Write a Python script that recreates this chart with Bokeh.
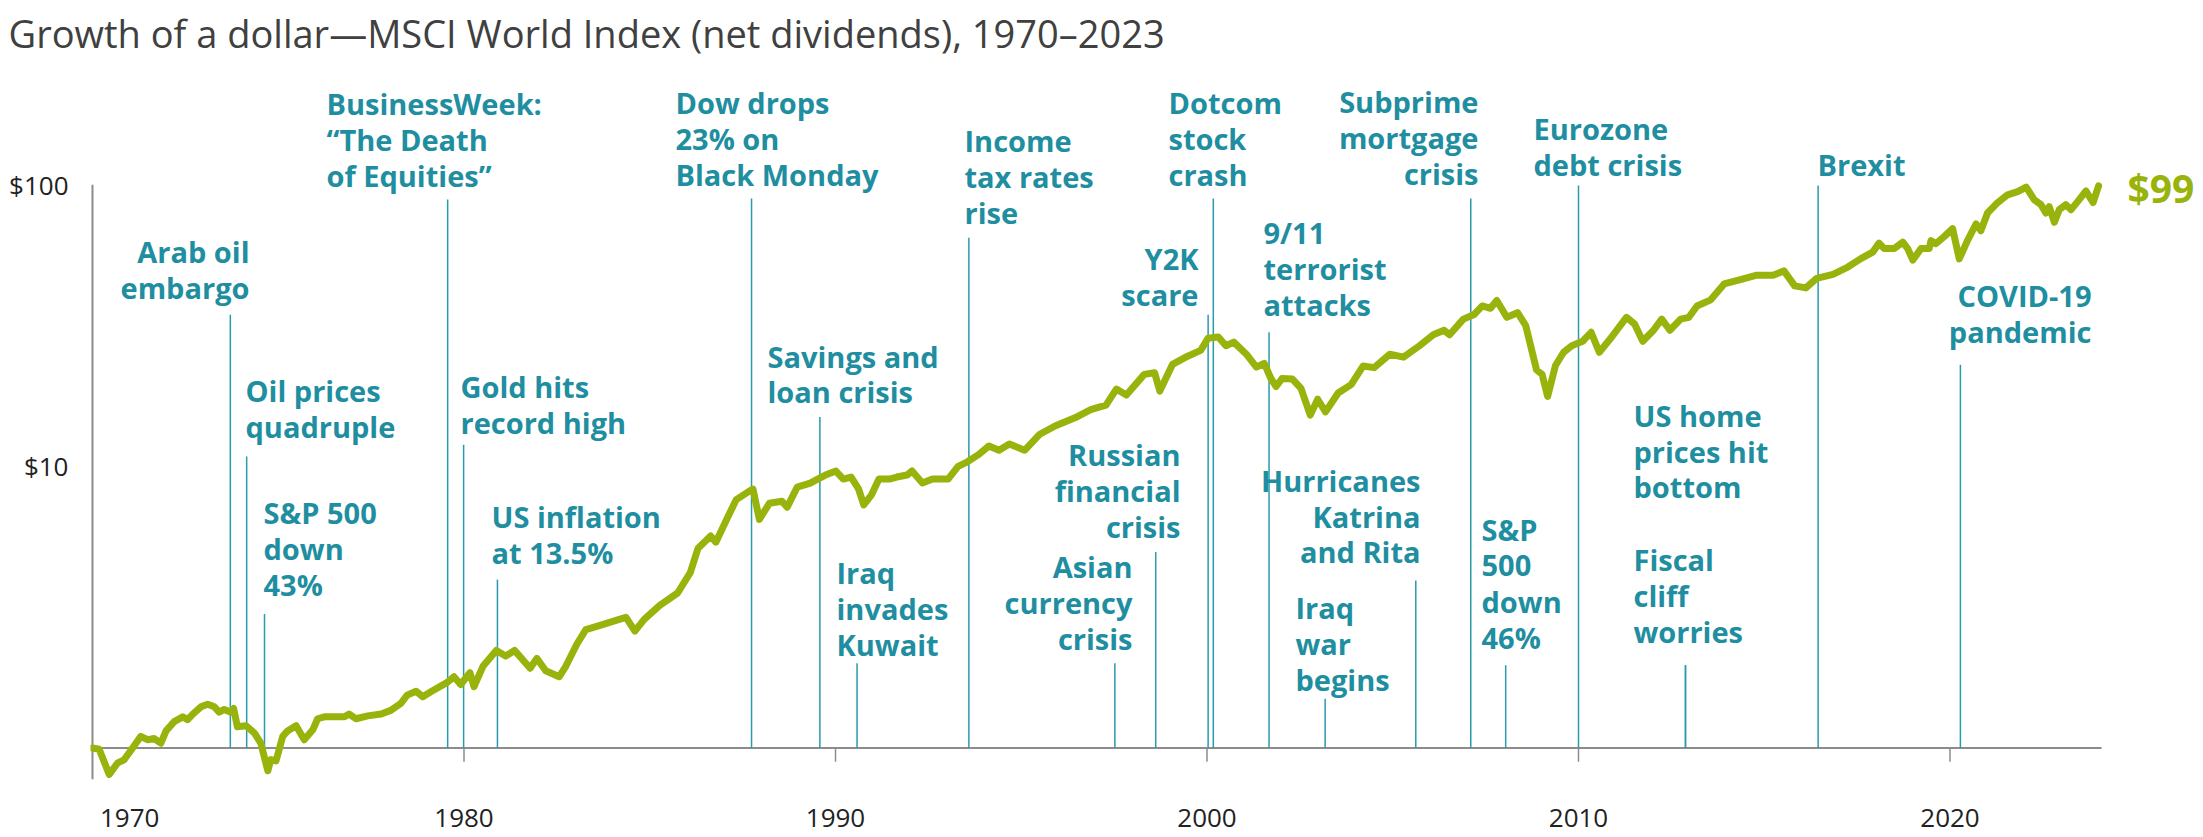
from bokeh.plotting import figure
from bokeh.models import ColumnDataSource, LabelSet, Label, FixedTicker, Range1d
from bokeh.core.properties import value
from bokeh.embed import file_html
from bokeh.resources import INLINE

# ---------------- data ----------------
years = [1970.00, 1970.18, 1970.45, 1970.68, 1970.85, 1971.08, 1971.30, 1971.48, 1971.66, 1971.84,
         1971.98, 1972.20, 1972.43, 1972.56, 1972.70, 1972.92, 1973.10, 1973.28, 1973.41, 1973.55,
         1973.71, 1973.80, 1973.90, 1974.13, 1974.36, 1974.53, 1974.72, 1974.80, 1974.94, 1975.12,
         1975.25, 1975.48, 1975.70, 1975.93, 1976.06, 1976.24, 1976.50, 1976.78, 1976.91, 1977.09,
         1977.41, 1977.77, 1978.03, 1978.30, 1978.47, 1978.71, 1978.89, 1979.13, 1979.55, 1979.73,
         1979.91, 1980.16, 1980.27, 1980.51, 1980.87, 1981.12, 1981.36, 1981.78, 1981.96, 1982.20,
         1982.56, 1982.74, 1983.04, 1983.28, 1983.64, 1984.18, 1984.36, 1984.60, 1984.85, 1985.27,
         1985.75, 1986.09, 1986.30, 1986.64, 1986.78, 1987.12, 1987.33, 1987.67, 1987.78, 1987.95,
         1988.22, 1988.56, 1988.70, 1988.97, 1989.32, 1989.52, 1989.73, 1990.01, 1990.21, 1990.42,
         1990.62, 1990.76, 1990.97, 1991.17, 1991.45, 1991.65, 1991.93, 1992.06, 1992.34, 1992.61,
         1993.03, 1993.30, 1993.51, 1993.85, 1994.13, 1994.40, 1994.68, 1995.09, 1995.50, 1995.91,
         1996.46, 1996.87, 1997.28, 1997.56, 1997.83, 1998.31, 1998.59, 1998.73, 1999.07, 1999.48,
         1999.83, 2000.03, 2000.30, 2000.51, 2000.72, 2001.06, 2001.33, 2001.54, 2001.72, 2001.86,
         2002.02, 2002.30, 2002.53, 2002.78, 2002.98, 2003.19, 2003.53, 2003.88, 2004.20, 2004.50,
         2004.92, 2005.29, 2005.72, 2006.09, 2006.38, 2006.53, 2006.90, 2007.19, 2007.41, 2007.63,
         2007.80, 2008.07, 2008.36, 2008.58, 2008.87, 2009.02, 2009.17, 2009.38, 2009.60, 2009.82,
         2010.11, 2010.34, 2010.56, 2010.85, 2011.29, 2011.51, 2011.73, 2012.02, 2012.24, 2012.46,
         2012.75, 2012.97, 2013.19, 2013.56, 2013.92, 2014.36, 2014.80, 2015.24, 2015.53, 2015.82,
         2016.12, 2016.41, 2016.85, 2017.25, 2017.60, 2017.92, 2018.09, 2018.23, 2018.50, 2018.73,
         2018.86, 2019.00, 2019.22, 2019.44, 2019.49, 2019.62, 2019.85, 2020.07, 2020.25, 2020.47,
         2020.70, 2020.83, 2021.01, 2021.28, 2021.55, 2021.82, 2022.05, 2022.27, 2022.45, 2022.58,
         2022.67, 2022.81, 2022.94, 2023.12, 2023.26, 2023.44, 2023.66, 2023.85, 2024.00]
values = [1.00, 0.99, 0.805, 0.886, 0.908, 1.00, 1.10, 1.07, 1.08, 1.04,
          1.15, 1.24, 1.29, 1.26, 1.32, 1.40, 1.43, 1.40, 1.34, 1.37,
          1.34, 1.38, 1.19, 1.20, 1.13, 1.04, 0.83, 0.91, 0.90, 1.10,
          1.15, 1.20, 1.07, 1.16, 1.27, 1.29, 1.29, 1.29, 1.32, 1.27,
          1.30, 1.32, 1.36, 1.44, 1.54, 1.59, 1.52, 1.59, 1.71, 1.79,
          1.68, 1.85, 1.65, 1.95, 2.22, 2.12, 2.22, 1.92, 2.08, 1.88,
          1.79, 1.95, 2.34, 2.63, 2.72, 2.86, 2.91, 2.60, 2.86, 3.21,
          3.55, 4.19, 5.12, 5.66, 5.38, 6.69, 7.62, 8.15, 8.30, 6.48,
          7.39, 7.52, 7.16, 8.44, 8.72, 9.01, 9.31, 9.62, 9.01, 9.16,
          8.32, 7.30, 7.92, 9.01, 9.01, 9.16, 9.31, 9.62, 8.72, 9.01,
          9.01, 10.0, 10.3, 11.0, 11.8, 11.4, 12.0, 11.4, 13.0, 13.9,
          14.9, 15.9, 16.5, 18.8, 17.9, 21.2, 21.5, 18.5, 23.0, 24.6,
          25.8, 28.5, 28.8, 26.8, 27.6, 25.0, 22.5, 23.2, 20.5, 19.2,
          20.5, 20.4, 18.9, 15.2, 17.3, 15.6, 18.2, 19.5, 22.7, 22.4,
          25.0, 24.4, 26.8, 29.3, 30.4, 29.3, 33.3, 34.6, 37.1, 36.4,
          38.8, 33.8, 35.1, 31.6, 22.0, 21.2, 17.7, 22.8, 25.4, 26.8,
          27.8, 29.9, 25.4, 28.3, 33.8, 32.0, 27.8, 30.4, 33.3, 30.4,
          33.3, 33.8, 37.1, 39.0, 44.4, 46.0, 47.7, 47.7, 49.4, 43.7,
          43.0, 46.5, 48.0, 51.0, 54.6, 57.6, 62.0, 59.3, 59.3, 62.5,
          59.3, 54.0, 59.3, 59.3, 63.3, 61.7, 65.5, 69.8, 54.5, 63.3,
          72.5, 68.6, 79.3, 86.3, 92.0, 94.4, 98.0, 88.3, 84.9, 79.3,
          83.5, 73.5, 81.5, 84.9, 81.5, 87.2, 94.9, 86.4, 99.0]

event_years = [1973.71, 1974.15, 1974.63, 1979.56, 1979.99, 1980.90, 1987.74, 1989.58,
               1990.58, 1993.59, 1998.62, 1997.52, 2000.03, 2000.17, 2001.67, 2005.62,
               2003.18, 2007.10, 2008.04, 2010.00, 2016.45, 2012.88, 2012.88, 2020.28]
event_labels = ["Arab oil\nembargo", "Oil prices\nquadruple", "S&P 500\ndown\n43%",
                "BusinessWeek:\n\u201cThe Death\nof Equities\u201d", "Gold hits\nrecord high",
                "US inflation\nat 13.5%", "Dow drops\n23% on\nBlack Monday", "Savings and\nloan crisis",
                "Iraq\ninvades\nKuwait", "Income\ntax rates\nrise", "Russian\nfinancial\ncrisis",
                "Asian\ncurrency\ncrisis", "Y2K\nscare", "Dotcom\nstock\ncrash",
                "9/11\nterrorist\nattacks", "Hurricanes\nKatrina\nand Rita", "Iraq\nwar\nbegins",
                "Subprime\nmortgage\ncrisis", "S&P\n500\ndown\n46%", "Eurozone\ndebt crisis",
                "Brexit", "US home\nprices hit\nbottom", "Fiscal\ncliff\nworries", "COVID-19\npandemic"]

y_ticks = [10, 100]
y_tick_labels = ["$10", "$100"]
x_ticks = [1970, 1980, 1990, 2000, 2010, 2020]
x_tick_labels = ["1970", "1980", "1990", "2000", "2010", "2020"]
start_value = 1.0
end_label = "$99"
title_text = "Growth of a dollar\u2014MSCI World Index (net dividends), 1970\u20132023"

# ---------------- layout (page pixels) ----------------
X0_PX, PX_PER_YEAR = 92.0, 37.15
Y1_PX, PX_PER_DECADE = 755.0, 286.0


def yr(px):
    return 1970 + (px - X0_PX) / PX_PER_YEAR


def dv(py):
    return 10 ** ((Y1_PX - py) / PX_PER_DECADE)


# (line top, text x, align, first text line centre)
event_layout = [
    (315, 249, "right", 251), (459, 245, "left", 392), (619, 263, "left", 516),
    (198, 326, "left", 101), (447, 460, "left", 388), (584, 491, "left", 520),
    (197, 675, "left", 100), (419, 767, "left", 357), (669, 836, "left", 577),
    (237, 964, "left", 138), (556, 1180, "right", 457), (669, 1132, "right", 571),
    (315, 1198, "right", 258), (197, 1168, "left", 100), (333, 1263, "left", 232),
    (585, 1420, "right", 483), (705, 1295, "left", 612), (197, 1478, "right", 99),
    (671, 1481, "left", 533), (184, 1533, "left", 126), (184, 1817, "left", 163),
    (671, 1633, "left", 417), (671, 1633, "left", 564), (366, 2091, "right", 296),
]
LINE_STEP = 36.5
FRAME_L, FRAME_T, FRAME_B = 90, 60, 787
W, H = 2203, 837

GREEN = "#98B40C"
TEAL = "#1E8EA0"
TEAL_LINE = "#2A9AAE"
GREY = "#8C8C8C"
INK = "#222222"

p = figure(width=W, height=H,
           x_range=Range1d(yr(FRAME_L), yr(W)), y_range=Range1d(dv(FRAME_B), dv(FRAME_T)),
           y_axis_type="log", output_backend="svg", toolbar_location=None,
           min_border_left=FRAME_L, min_border_right=0, min_border_top=FRAME_T,
           min_border_bottom=H - FRAME_B)
p.outline_line_color = None
p.grid.visible = False
p.background_fill_color = "white"
p.border_fill_color = "white"

# title
p.title.text = title_text
p.title.align = "left"
p.title.offset = -82
p.title.standoff = 9
p.title.text_font = "Open Sans"
p.title.text_font_style = "normal"
p.title.text_font_size = "38px"
p.title.text_color = "#404040"

# y axis (labels only; axis line drawn below as a segment)
p.yaxis.ticker = FixedTicker(ticks=y_ticks)
p.yaxis.major_label_overrides = {t: s for t, s in zip(y_ticks, y_tick_labels)}
p.yaxis.axis_line_color = None
p.yaxis.major_tick_line_color = None
p.yaxis.minor_tick_line_color = None
p.yaxis.major_tick_out = 0
p.yaxis.major_tick_in = 0
p.yaxis.major_label_standoff = 22
p.yaxis.major_label_text_font = "Open Sans"
p.yaxis.major_label_text_font_size = "26px"
p.yaxis.major_label_text_color = INK

# x axis (labels only; ticks drawn below as segments)
xlabels = dict(zip(x_ticks, x_tick_labels))
xlabels[1970] = "\u2007" * 5 + xlabels[1970]
p.xaxis.ticker = FixedTicker(ticks=x_ticks)
p.xaxis.major_label_overrides = xlabels
p.xaxis.axis_line_color = None
p.xaxis.major_tick_line_color = None
p.xaxis.minor_tick_line_color = None
p.xaxis.major_tick_in = 0
p.xaxis.major_tick_out = 0
p.xaxis.major_label_standoff = 19
p.xaxis.major_label_text_font = "Open Sans"
p.xaxis.major_label_text_font_size = "26px"
p.xaxis.major_label_text_color = INK

# axis lines and ticks
p.segment(x0=[1970], y0=[max(y_ticks)], x1=[1970], y1=[dv(FRAME_B)], line_color=GREY, line_width=2)
p.segment(x0=[1970], y0=[start_value], x1=[yr(2101)], y1=[start_value], line_color=GREY, line_width=2)
p.segment(x0=x_ticks[1:], y0=[start_value] * (len(x_ticks) - 1), x1=x_ticks[1:],
          y1=[dv(769)] * (len(x_ticks) - 1), line_color=GREY, line_width=1.5)

# event lines
tops = [dv(l[0]) for l in event_layout]
p.segment(x0=event_years, y0=tops, x1=event_years, y1=[start_value] * len(event_years),
          line_color=TEAL_LINE, line_width=1.5)

# main series
p.line(years, values, line_color=GREEN, line_width=7, line_join="round", line_cap="round")

# event texts (one row per text line)
rows = {"left": dict(x=[], y=[], t=[]), "right": dict(x=[], y=[], t=[])}
for lab, (top, tx, align, y0) in zip(event_labels, event_layout):
    for i, line in enumerate(lab.split("\n")):
        rows[align]["x"].append(yr(tx))
        rows[align]["y"].append(dv(y0 + i * LINE_STEP))
        rows[align]["t"].append(line)
for align, d in rows.items():
    src = ColumnDataSource(d)
    p.add_layout(LabelSet(x="x", y="y", text="t", source=src, text_align=align,
                          text_baseline="middle", text_font=value("Open Sans"),
                          text_font_style="bold", text_font_size="29px", text_color=TEAL))

# end value label
p.add_layout(Label(x=yr(2127), y=dv(186), text=end_label, text_align="left",
                   text_baseline="middle", text_font="Open Sans", text_font_style="bold",
                   text_font_size="39px", text_color=GREEN))

open("out.html", "w").write(file_html(p, INLINE))
